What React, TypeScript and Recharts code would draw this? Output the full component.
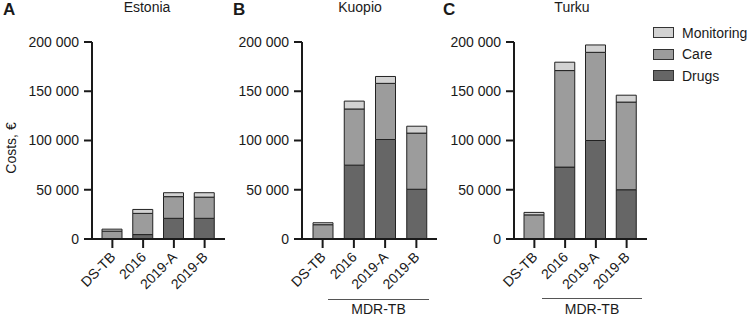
import { BarChart, Bar, XAxis, YAxis, Legend } from "recharts";

const categories = ["DS-TB", "2016", "2019-A", "2019-B"];
const yTicks = [0, 50000, 100000, 150000, 200000];

const estoniaDrugs = [0, 4500, 21000, 21000];
const estoniaCare = [8000, 21500, 22000, 21500];
const estoniaMonitoring = [2000, 4000, 4000, 4500];

const kuopioDrugs = [0, 75000, 101000, 50500];
const kuopioCare = [14500, 57000, 57000, 57000];
const kuopioMonitoring = [2000, 8000, 7000, 7000];

const turkuDrugs = [0, 73000, 100000, 50000];
const turkuCare = [24500, 98000, 89500, 89000];
const turkuMonitoring = [2500, 8500, 7500, 7000];

const seriesNames = ["Monitoring", "Care", "Drugs"];
const seriesColors = ["#d2d2d2", "#9c9c9c", "#666666"];

const FONT = "'Liberation Sans', Arial, sans-serif";
const INK = "#1a1a1a";

function build(drugs: number[], care: number[], monitoring: number[]) {
  return categories.map((c, i) => ({
    name: c,
    Drugs: drugs[i],
    Care: care[i],
    Monitoring: monitoring[i],
  }));
}

const fmt = (v: number) =>
  String(v).replace(/\B(?=(\d{3})+(?!\d))/g, " ");

function XTick({ x, y, payload }: any) {
  return (
    <g transform={`translate(${x + 4},${y + 10}) rotate(-45)`}>
      <text x={0} y={0} textAnchor="end" fontSize={14} fill={INK}>
        {payload.value}
      </text>
    </g>
  );
}

function LegendBox() {
  return (
    <div>
      {seriesNames.map((n, i) => (
        <div
          key={n}
          style={{
            display: "flex",
            alignItems: "center",
            height: 21.5,
            fontSize: 14,
            color: INK,
            whiteSpace: "nowrap",
          }}
        >
          <span
            style={{
              width: 19,
              height: 9,
              background: seriesColors[i],
              border: "1px solid #333",
              marginRight: 8,
            }}
          />
          {n}
        </div>
      ))}
    </div>
  );
}

function Panel({
  data,
  left,
  width,
  rightMargin,
  withLegend,
}: any) {
  return (
    <div style={{ position: "absolute", left, top: 0 }}>
      <BarChart
        width={width}
        height={317}
        data={data}
        margin={{ top: 42, right: rightMargin, bottom: 0, left: 0 }}
      >
        <XAxis
          dataKey="name"
          height={78}
          padding={{ left: 5, right: 5 }}
          tickSize={9}
          tickMargin={0}
          axisLine={{ stroke: INK, strokeWidth: 2 }}
          tickLine={{ stroke: INK, strokeWidth: 2 }}
          tick={<XTick />}
          interval={0}
        />
        <YAxis
          width={92}
          domain={[0, 200000]}
          ticks={yTicks}
          tickFormatter={fmt}
          tickSize={8}
          tickMargin={5}
          axisLine={{ stroke: INK, strokeWidth: 2 }}
          tickLine={{ stroke: INK, strokeWidth: 2 }}
          tick={{ fontSize: 14, fill: INK }}
        />
        <Bar dataKey="Drugs" stackId="a" fill={seriesColors[2]} stroke="#222" strokeWidth={1} barSize={20} isAnimationActive={false} />
        <Bar dataKey="Care" stackId="a" fill={seriesColors[1]} stroke="#222" strokeWidth={1} barSize={20} isAnimationActive={false} />
        <Bar dataKey="Monitoring" stackId="a" fill={seriesColors[0]} stroke="#222" strokeWidth={1} barSize={20} isAnimationActive={false} />
        {withLegend && (
          <Legend
            layout="vertical"
            align="center"
            verticalAlign="middle"
            wrapperStyle={{ left: 231, top: 22, width: 100 }}
            content={() => <LegendBox />}
          />
        )}
      </BarChart>
    </div>
  );
}

const abs = (s: any) => ({ position: "absolute" as const, ...s });

export default function App() {
  return (
    <div
      style={{
        position: "absolute",
        left: 0,
        top: 0,
        width: 749,
        height: 317,
        background: "#fff",
        fontFamily: FONT,
        color: INK,
        overflow: "hidden",
      }}
    >
      <Panel data={build(estoniaDrugs, estoniaCare, estoniaMonitoring)} left={0} width={235} rightMargin={10} />
      <Panel data={build(kuopioDrugs, kuopioCare, kuopioMonitoring)} left={210} width={237} rightMargin={10} />
      <Panel data={build(turkuDrugs, turkuCare, turkuMonitoring)} left={422} width={327} rightMargin={102} withLegend />

      <div style={abs({ left: 3, top: 1, fontSize: 17, fontWeight: 700, lineHeight: "17px" })}>A</div>
      <div style={abs({ left: 233, top: 1, fontSize: 17, fontWeight: 700, lineHeight: "17px" })}>B</div>
      <div style={abs({ left: 443, top: 1, fontSize: 17, fontWeight: 700, lineHeight: "17px" })}>C</div>

      <div style={abs({ left: 97, width: 100, top: 0, textAlign: "center", fontSize: 14, lineHeight: "14px" })}>Estonia</div>
      <div style={abs({ left: 310, width: 100, top: 0, textAlign: "center", fontSize: 14, lineHeight: "14px" })}>Kuopio</div>
      <div style={abs({ left: 522, width: 100, top: 0, textAlign: "center", fontSize: 14, lineHeight: "14px" })}>Turku</div>

      <div
        style={abs({
          left: 11 - 50,
          top: 148 - 8,
          width: 100,
          height: 16,
          lineHeight: "16px",
          textAlign: "center",
          fontSize: 14,
          transform: "rotate(-90deg)",
        })}
      >
        Costs, €
      </div>

      <div style={abs({ left: 328, top: 299, width: 101, borderTop: "1px solid #555" })} />
      <div style={abs({ left: 328, top: 301, width: 101, textAlign: "center", fontSize: 14, lineHeight: "16px" })}>MDR-TB</div>
      <div style={abs({ left: 542, top: 298, width: 100, borderTop: "1px solid #555" })} />
      <div style={abs({ left: 542, top: 301, width: 100, textAlign: "center", fontSize: 14, lineHeight: "16px" })}>MDR-TB</div>
    </div>
  );
}
